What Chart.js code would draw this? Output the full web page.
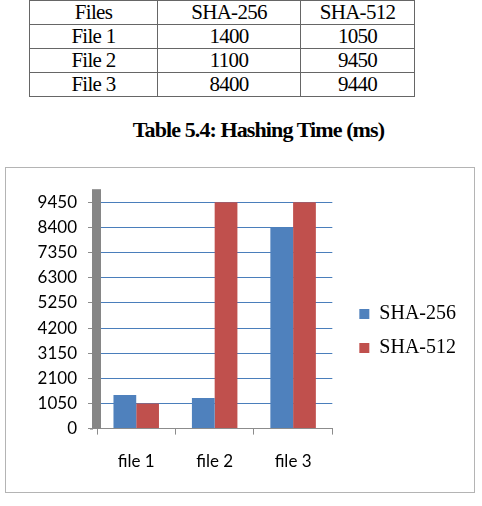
<!DOCTYPE html>
<html>
<head>
<meta charset="utf-8">
<script src="https://cdn.jsdelivr.net/npm/chart.js@4.4.1/dist/chart.umd.min.js"></script>
<style>
  body { margin: 0; background: #fff; width: 482px; height: 506px; position: relative; overflow: hidden; }
  table {
    position: absolute; left: 29px; top: 0; width: 385px;
    border-collapse: collapse; table-layout: fixed;
    font-family: "Liberation Serif", serif; font-size: 21px; letter-spacing: -0.7px; color: #000;
  }
  td { border: 1.5px solid #666; height: 23px; line-height: 23px; padding: 0; text-align: center; }
  .caption {
    position: absolute; left: 0; top: 117px; width: 517px; text-align: center; white-space: nowrap;
    font-family: "Liberation Serif", serif; font-weight: bold; font-size: 22px; letter-spacing: -0.9px; line-height: 25px;
  }
  .box { position: absolute; left: 5px; top: 167px; width: 468px; height: 324px; border: 1px solid #b4b4b4; }
  canvas { display: block; }
</style>
</head>
<body>
<table>
  <colgroup><col style="width:128px"><col style="width:143px"><col style="width:114px"></colgroup>
  <tr><td>Files</td><td>SHA-256</td><td>SHA-512</td></tr>
  <tr><td>File 1</td><td>1400</td><td>1050</td></tr>
  <tr><td>File 2</td><td>1100</td><td>9450</td></tr>
  <tr><td>File 3</td><td>8400</td><td>9440</td></tr>
</table>
<div class="caption">Table 5.4: Hashing Time (ms)</div>
<div class="box"><canvas id="grafico" width="468" height="324"></canvas></div>

<script>
// valores
const categorias = ['file 1', 'file 2', 'file 3'];
const sha256 = [1400, 1280, 8400];
const sha512 = [1050, 9450, 9450];
const yTicks = [0, 1050, 2100, 3150, 4200, 5250, 6300, 7350, 8400, 9450];
const yMax = 10000;

// parede cinza do eixo Y (estilo Excel)
const paredeCinza = {
    id: 'paredeCinza',
    beforeDatasetsDraw(chart) {
        const { ctx, scales: { x, y } } = chart;
        const topo = y.getPixelForValue(y.max);
        const base = y.getPixelForValue(0);
        ctx.save();
        ctx.fillStyle = '#868686';
        ctx.fillRect(x.left - 5, topo, 9, base - topo);
        // linha do eixo X passa um pouco à esquerda da parede
        ctx.fillStyle = '#8c8c8c';
        ctx.fillRect(x.left - 7, base, 3, 1);
        ctx.restore();
    }
};

const fonteEixo = { family: 'Lato', size: 17 };

new Chart(document.getElementById('grafico'), {
    type: 'bar',
    data: {
        labels: categorias,
        datasets: [
            { label: 'SHA-256', data: sha256, backgroundColor: '#4f81bd' },
            { label: 'SHA-512', data: sha512, backgroundColor: '#c0504d' }
        ]
    },
    options: {
        responsive: false,
        animation: false,
        categoryPercentage: 0.58,
        barPercentage: 1.0,
        layout: { padding: { left: 0, top: 5, right: 8, bottom: 3 } },
        scales: {
            x: {
                offset: true,
                grid: { offset: true, drawOnChartArea: false, tickLength: 6, color: '#8c8c8c' },
                border: { color: '#8c8c8c' },
                ticks: { padding: 17, color: '#000', font: fonteEixo }
            },
            y: {
                min: 0,
                max: yMax,
                afterBuildTicks: s => { s.ticks = yTicks.map(v => ({ value: v })); },
                afterFit: s => { s.width = 91; },
                grid: {
                    color: c => (c.tick && c.tick.value === 0) ? 'rgba(0,0,0,0)' : '#4a7ebb',
                    tickColor: '#8c8c8c',
                    tickLength: 9
                },
                border: { display: false },
                ticks: { padding: 11, color: '#000', font: fonteEixo, callback: v => String(v) }
            },
            espaco: {
                position: 'right',
                grid: { display: false },
                ticks: { display: false },
                border: { display: false },
                afterFit: s => { s.width = 13; }
            }
        },
        plugins: {
            tooltip: { enabled: false },
            // título vazio só para empurrar a área do gráfico para baixo
            title: { display: true, text: '', padding: 0, font: { size: 10, lineHeight: 1.5 } },
            legend: {
                position: 'right',
                maxWidth: 200,
                labels: {
                    boxWidth: 10,
                    boxHeight: 10,
                    padding: 14,
                    color: '#000',
                    font: { family: 'Liberation Serif', size: 20 }
                }
            }
        }
    },
    plugins: [paredeCinza]
});
</script>
</body>
</html>
